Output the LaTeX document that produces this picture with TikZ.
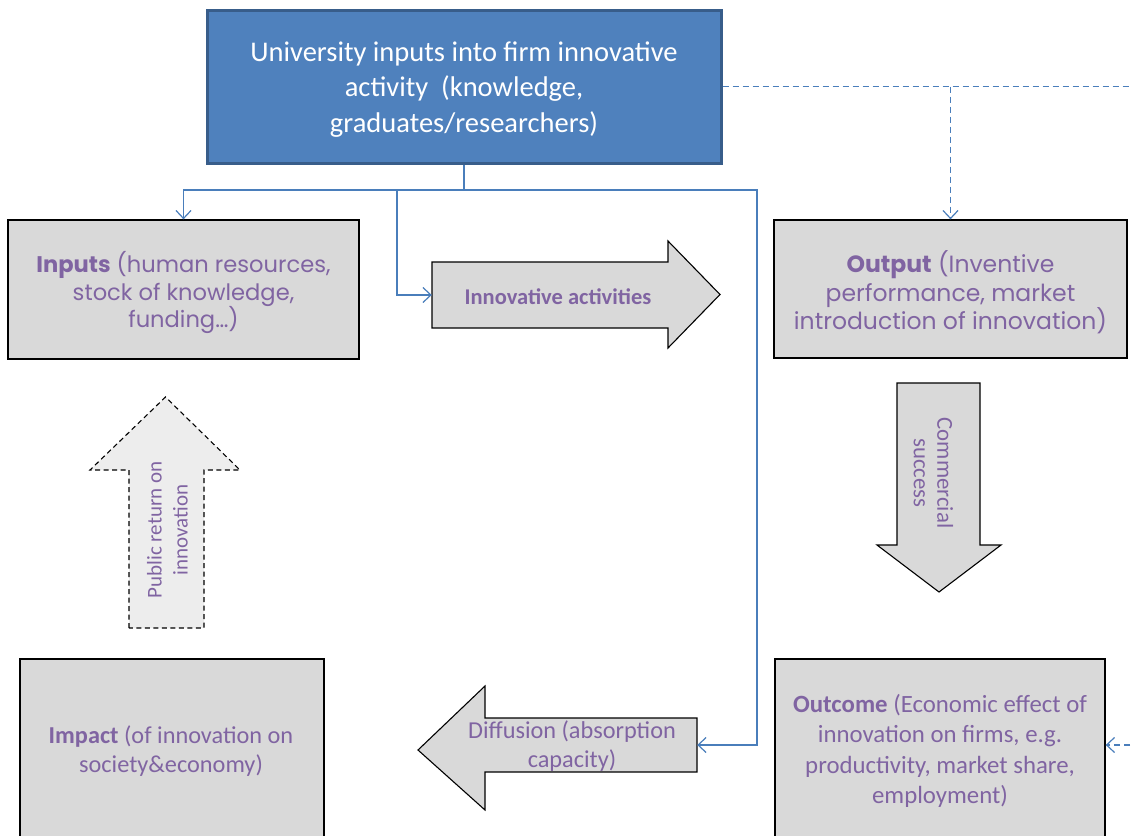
\documentclass[tikz,border=0pt]{standalone}
\usepackage{fontspec}
\setmainfont{Carlito}
\newfontfamily\gothic{Poppins}
\usetikzlibrary{arrows.meta}
\definecolor{uniblue}{HTML}{4F81BD}
\definecolor{uniedge}{HTML}{385D8A}
\definecolor{lnblue}{HTML}{4A7EBB}
\definecolor{purp}{HTML}{8064A2}
\definecolor{boxgray}{HTML}{D9D9D9}
\definecolor{ltgray}{HTML}{EDEDED}
\tikzset{
  graybox/.style={draw=black, line width=1.3pt, fill=boxgray, text=purp, align=center, inner sep=0pt},
  blockarrow/.style={draw=black, line width=1.1pt, fill=boxgray},
  conn/.style={draw=lnblue, line width=1.3pt},
  dconn/.style={draw=lnblue, line width=1.3pt, dash pattern=on 6pt off 4pt},
  tip/.style={-{Straight Barb[length=8pt,width=15pt,line width=1.2pt]}},
  lbl/.style={text=purp, align=center, inner sep=0pt},
  hole/.style={inner sep=0pt, draw=none}
}
\begin{document}
\begin{tikzpicture}[x=1pt,y=-1pt]
\useasboundingbox (0,0) rectangle (1132,835);
\clip (0,0) rectangle (1132,835);
% top box
\node[draw=uniedge, line width=3pt, fill=uniblue, inner sep=0pt,
      minimum width=514pt, minimum height=153pt] (uni) at (464,86.5) {};
\node[text=white, align=center, inner sep=0pt, font=\fontsize{28.5}{35.5}\selectfont] at (464,89.5)
  {University inputs into firm innovative\\activity \ (knowledge,\\graduates/researchers)};
% grey boxes
\node[graybox, minimum width=351pt, minimum height=139pt] (inp) at (183.5,289.5) {};
\node[lbl, font=\gothic\fontsize{22.6}{27.5}\selectfont] at (183.5,292.5)
  {\textbf{Inputs} (human resources,\\stock of knowledge,\\funding\ldots)};
\node[graybox, minimum width=353pt, minimum height=138pt] (out) at (950.5,289) {};
\node[lbl, font=\gothic\fontsize{23.5}{28.5}\selectfont] at (950.5,292.5)
  {\textbf{Output} (Inventive\\performance, market\\introduction of innovation)};
\node[graybox, minimum width=304pt, minimum height=182pt] (imp) at (172,750) {};
\node[lbl, font=\fontsize{24.3}{29.5}\selectfont] at (171,751)
  {\textbf{Impact} (of innovation on\\society\&economy)};
\node[graybox, minimum width=330pt, minimum height=182pt] (outc) at (940,750) {};
\node[lbl, font=\fontsize{24.8}{30.3}\selectfont] at (940,751)
  {\textbf{Outcome} (Economic effect of\\innovation on firms, e.g.\\productivity, market share,\\employment)};
% innovative activities arrow
\draw[blockarrow] (432,262) -- (668,262) -- (668,241) -- (720,294.5) -- (668,348) -- (668,328) -- (432,328) -- cycle;
\node[hole, minimum width=236pt, minimum height=66pt] (innov) at (550,295) {};
\node[lbl, font=\bfseries\fontsize{22.5}{26}\selectfont] at (558,297) {Innovative activities};
% commercial success arrow
\draw[blockarrow] (897,383) -- (980,383) -- (980,545) -- (1001,545) -- (939,592) -- (877,545) -- (897,545) -- cycle;
\node[hole, minimum width=83pt, minimum height=162pt] (comm) at (938.5,464) {};
\node[lbl, rotate=-90, font=\fontsize{22.8}{23.5}\selectfont] at (933.5,473) {Commercial\\success};
% diffusion arrow
\draw[blockarrow] (697,718) -- (485,718) -- (485,686) -- (418,750) -- (485,810) -- (485,772) -- (697,772) -- cycle;
\node[hole, minimum width=212pt, minimum height=54pt] (diff) at (591,745) {};
\node[lbl, font=\fontsize{24.3}{29.5}\selectfont] at (572,746) {Diffusion (absorption\\capacity)};
% public return arrow
\draw[draw=black, line width=1.1pt, dash pattern=on 5pt off 3.5pt, fill=ltgray]
  (129,628) -- (129,470) -- (90,470) -- (165.5,397) -- (240,470) -- (204,470) -- (204,628) -- cycle;
\node[hole, minimum width=75pt, minimum height=158pt] (pub) at (166.5,549) {};
\node[lbl, rotate=90, font=\fontsize{21}{26}\selectfont] at (167.5,530) {Public return on\\innovation};
% solid connectors
\coordinate (j) at (464,190);
\coordinate (jl) at (397,190);
\coordinate (jr) at (757,190);
\draw[conn] (uni.south) -- (j);
\draw[conn, tip] (j) -| (inp.north);
\draw[conn, tip] (j) -- (jl) |- (innov.west);
\draw[conn, tip] (j) -- (jr) |- (diff.east);
% dashed connectors
\coordinate (rt) at (1140,86.5);
\coordinate (rb) at (1140,745);
\draw[dconn] (uni.east) -- (rt);
\draw[dconn, tip] (uni.east -| out.north) -- (out.north);
\draw[dconn, tip] (rb) -- (outc.east |- rb);
\end{tikzpicture}
\end{document}
